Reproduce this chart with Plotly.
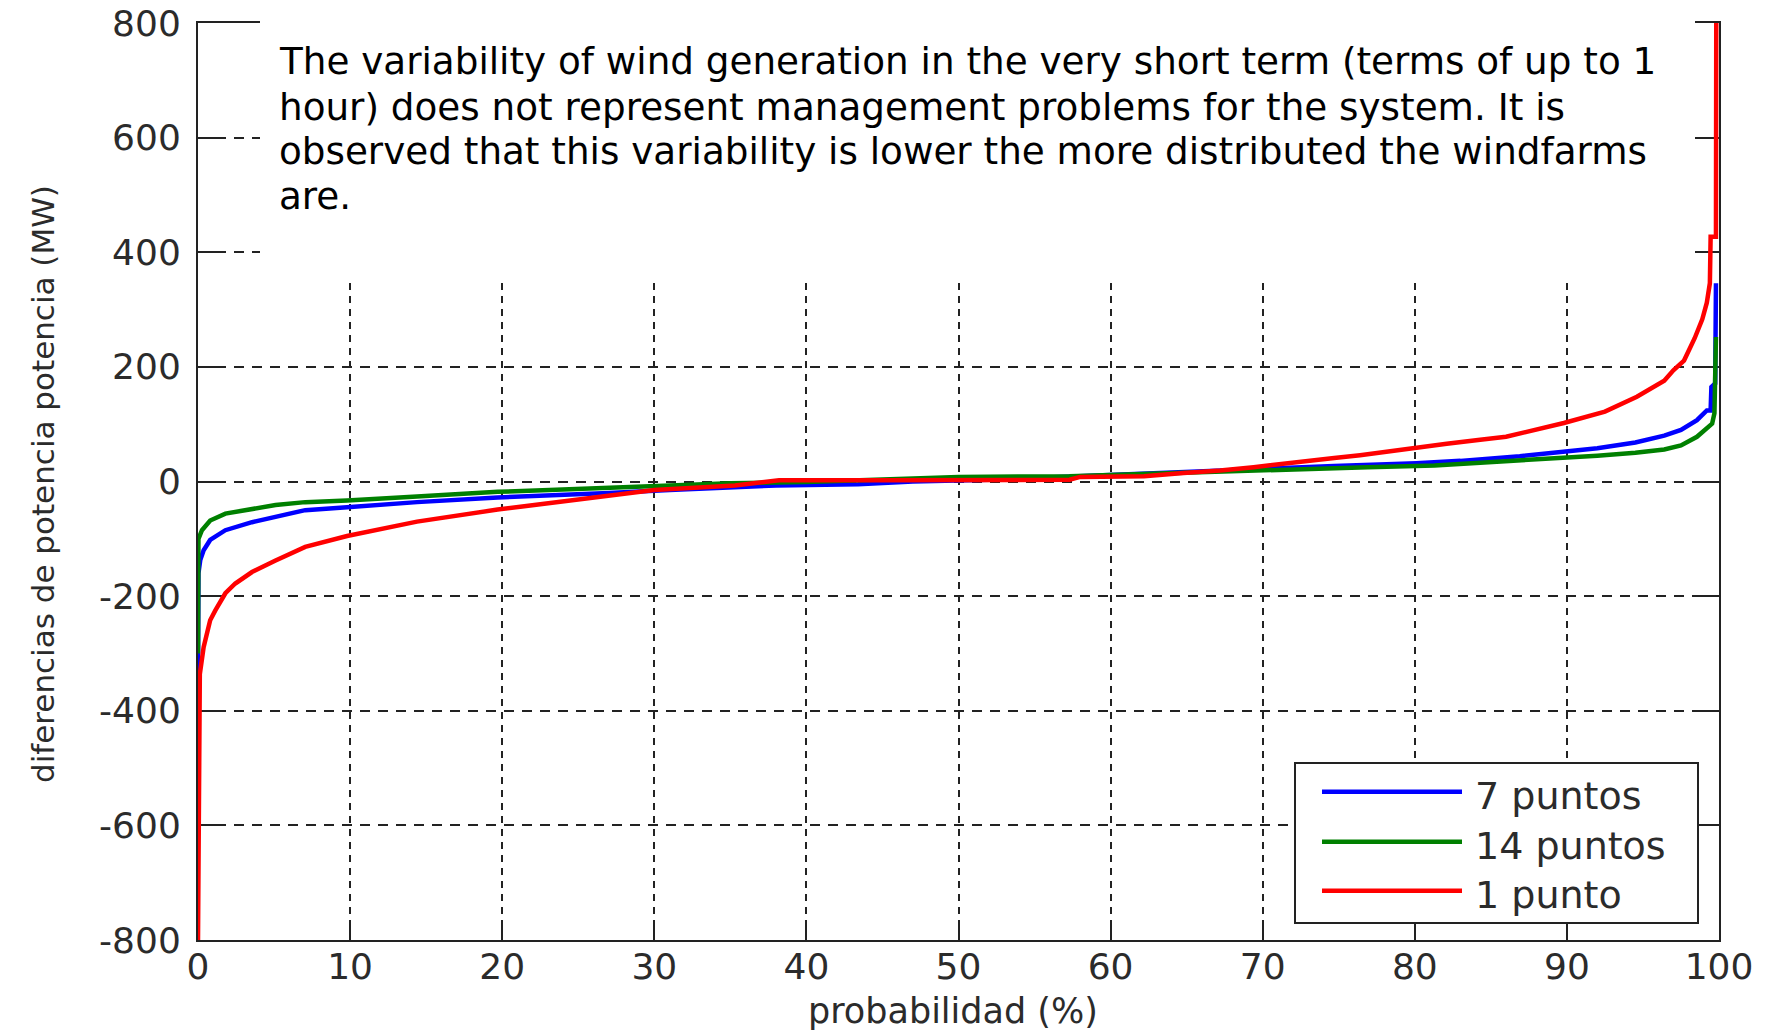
import plotly.graph_objects as go

# Sorted power differences (MW) against exceedance probability (%)
prob_7 = [0, 0.03, 0.15, 0.37, 0.8, 1.8, 3.55, 5.1, 7.05, 9.8, 14.4, 19.7, 23.1, 27, 31,
          35.3, 38, 43.4, 47, 52, 56.4, 60, 64.6, 70, 74.7, 80.1, 83, 86.9, 89.8, 92,
          94.5, 96.4, 97.5, 98.55, 99.2, 99.45, 99.5, 99.75, 99.8]
diff_7 = [-345, -160, -137, -120, -102, -85, -71, -62, -50, -45, -36, -28, -25, -20, -15,
          -10, -7, -5, 0, 3, 8, 12, 17, 22, 27, 32, 36, 44, 51, 58,
          68, 80, 90, 107, 124, 124, 165, 171, 346]

prob_14 = [0, 0.03, 0.26, 0.8, 1.8, 3.55, 5.1, 7.05, 9.8, 14.4, 19.7, 23.1, 26.5, 30,
           35, 40, 45, 50, 57.3, 64.8, 71.2, 76.9, 81.3, 86.9, 89.8, 92, 94.5, 96.4,
           97.5, 98.55, 99.55, 99.7, 99.8]
diff_14 = [-300, -100, -85, -68, -56, -47, -41, -36, -33, -26, -18, -15, -12, -8,
           -3, -1, 3, 8, 9, 15, 22, 25, 28, 36, 40, 45, 50, 56,
           63, 78, 101, 119, 252]

prob_1 = [0, 0.05, 0.12, 0.37, 0.6, 0.8, 1.14, 1.8, 2.45, 3.55, 5.1, 7.05, 9.8, 14.4,
          19.7, 23.1, 26.5, 30, 35.3, 38.2, 45, 52.7, 57.3, 58, 62.2, 64.8, 67.2, 69.4,
          71.2, 72.9, 74.7, 76.4, 77.7, 79.9, 82.1, 84.3, 86, 89.8, 92.5, 94.6, 96.4,
          97, 97.7, 98.4, 98.9, 99.2, 99.4, 99.45, 99.8, 99.82]
diff_1 = [-800, -417, -336, -289, -265, -242, -225, -195, -178, -158, -138, -114, -95, -70,
          -49, -38, -27, -15, -7, 2, 2, 2, 3, 8, 9, 15, 19, 25,
          31, 36, 41, 46, 51, 58, 66, 73, 78, 102, 122, 148, 176,
          194, 211, 250, 283, 312, 346, 427, 427, 800]

series_names = ["7 puntos", "14 puntos", "1 punto"]
series_colors = ["#0000FF", "#008000", "#FF0000"]

x_ticks = [0, 10, 20, 30, 40, 50, 60, 70, 80, 90, 100]
y_ticks = [-800, -600, -400, -200, 0, 200, 400, 600, 800]
y_tick_labels = ["-800", "-600", "-400", "-200", "0", "200", "400", "600", "800"]

x_title = "probabilidad (%)"
y_title = "diferencias de potencia potencia (MW)"
note_lines = [
    "The variability of wind generation in the very short term (terms of up to 1",
    "hour) does not represent management problems for the system. It is",
    "observed that this variability is lower the more distributed the windfarms",
    "are.",
]

W, H = 1771, 1035
ML, MR, MT, MB = 198, 52, 23, 95
PW, PH = W - ML - MR, H - MT - MB


def px(x):
    return (x - ML) / PW


def py(y):
    return (H - MB - y) / PH


FONT = "DejaVu Sans"
INK = "#222222"
LABEL = "#2b2b2b"

fig = go.Figure()
for xs, ys, name, color in zip([prob_7, prob_14, prob_1], [diff_7, diff_14, diff_1],
                               series_names, series_colors):
    fig.add_trace(go.Scatter(x=xs, y=ys, mode="lines", name=name,
                             line=dict(color=color, width=4.5), showlegend=False))

axis_common = dict(
    showline=True, linecolor=INK, linewidth=2, mirror="ticks",
    ticks="inside", ticklen=20, tickwidth=2, tickcolor=INK,
    showgrid=True, gridcolor=INK, gridwidth=2, zeroline=False,
    tickfont=dict(family=FONT, size=36, color=LABEL),
    layer="below traces",
)
fig.update_xaxes(range=[0, 100], tickvals=x_ticks, griddash="7px,6px",
                 ticklabelstandoff=-6, **axis_common)
fig.update_yaxes(range=[-800, 800], tickvals=y_ticks, ticktext=y_tick_labels,
                 griddash="10px,8px", ticklabelstandoff=8, **axis_common)

shapes = [
    # white panel behind the note
    dict(type="rect", xref="paper", yref="paper", x0=px(260), x1=px(1695),
         y0=py(282), y1=py(5), fillcolor="white", line=dict(width=0), layer="above"),
    # legend frame
    dict(type="rect", xref="paper", yref="paper", x0=px(1295), x1=px(1698),
         y0=py(923), y1=py(763), fillcolor="white", line=dict(color=INK, width=2),
         layer="above"),
]
legend_rows = [791.7, 841.7, 890.7]
annotations = []
for row, name, color in zip(legend_rows, series_names, series_colors):
    shapes.append(dict(type="line", xref="paper", yref="paper", x0=px(1322), x1=px(1462),
                       y0=py(row), y1=py(row), line=dict(color=color, width=4.5),
                       layer="above"))
    annotations.append(dict(text=name, xref="paper", yref="paper", x=px(1473), y=py(row + 4),
                            xanchor="left", yanchor="middle", showarrow=False,
                            font=dict(family=FONT, size=38, color=LABEL)))

note_rows = [61, 106.5, 151.5, 196]
for row, line in zip(note_rows, note_lines):
    annotations.append(dict(text=line, xref="paper", yref="paper", x=px(278), y=py(row),
                            xanchor="left", yanchor="middle", align="left",
                            showarrow=False, borderpad=0,
                            font=dict(family=FONT, size=37.3, color="black")))

annotations += [
    dict(text=x_title, xref="paper", yref="paper", x=px(953), y=py(1011),
         xanchor="center", yanchor="middle", showarrow=False, borderpad=0,
         font=dict(family=FONT, size=35, color=LABEL)),
    dict(text=y_title, xref="paper", yref="paper", x=px(43), y=py(484),
         xanchor="center", yanchor="middle", textangle=-90, showarrow=False,
         font=dict(family=FONT, size=31, color=LABEL)),
]

fig.update_layout(
    width=W, height=H,
    margin=dict(l=ML, r=MR, t=MT, b=MB, autoexpand=False),
    paper_bgcolor="white", plot_bgcolor="white",
    shapes=shapes, annotations=annotations, showlegend=False,
)

fig.write_html("out.html")
